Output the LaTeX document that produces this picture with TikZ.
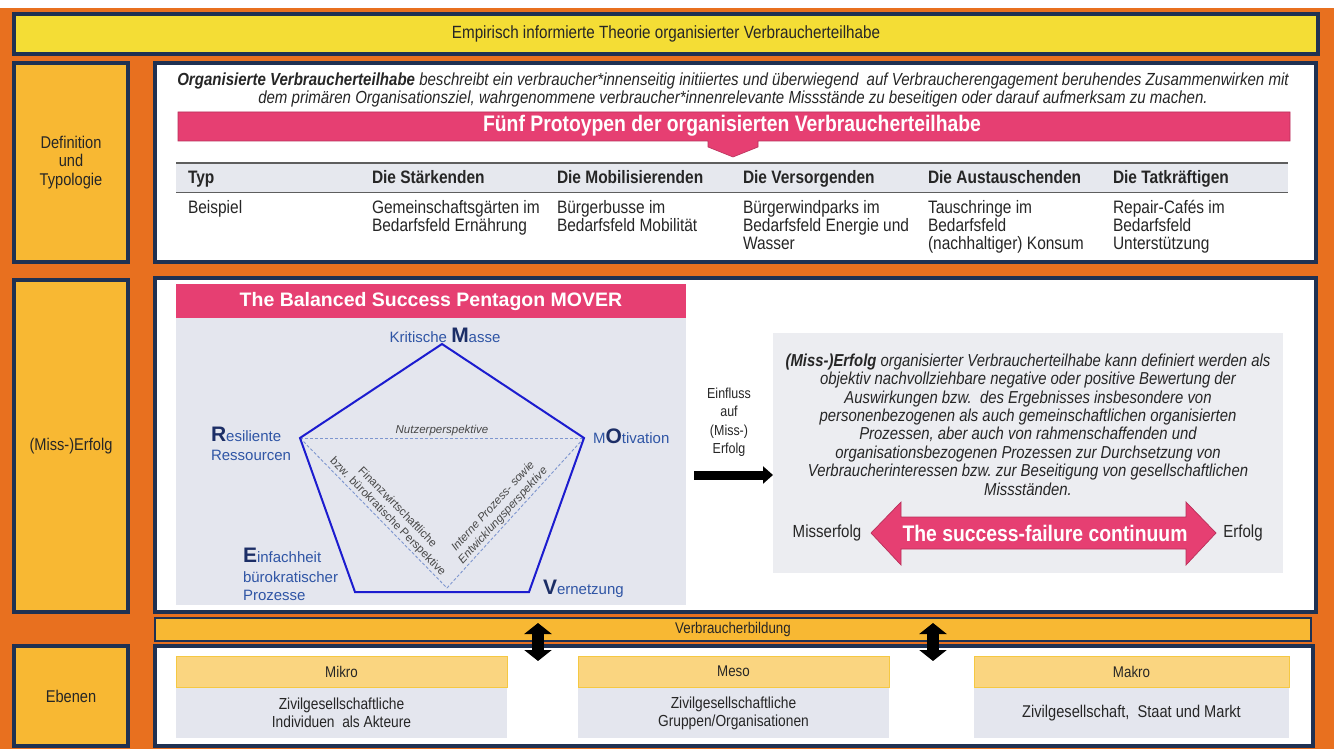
\documentclass[tikz,border=0pt]{standalone}
\usepackage{fontspec}
\setmainfont{Liberation Sans}
\newfontfamily\nar{Liberation Sans}[FakeStretch=0.86]
\usetikzlibrary{arrows.meta}

\definecolor{bgorange}{HTML}{E8701F}
\definecolor{navy}{HTML}{1F3152}
\definecolor{ttlyellow}{HTML}{F4DD35}
\definecolor{lblorange}{HTML}{F8B833}
\definecolor{pinkred}{HTML}{E63F72}
\definecolor{pinkedge}{HTML}{B8305A}
\definecolor{panelgray}{HTML}{E4E6EE}
\definecolor{boxgray}{HTML}{ECEDF1}
\definecolor{hdrorange}{HTML}{FAD580}
\definecolor{hdredge}{HTML}{F5C842}
\definecolor{pentblue}{HTML}{1C1CCF}
\definecolor{labblue}{HTML}{2F55A5}
\definecolor{capblue}{HTML}{1C2E66}
\definecolor{dashblue}{HTML}{7E96CF}
\definecolor{ink}{HTML}{262626}
\definecolor{rulegray}{HTML}{5E5E5E}
\definecolor{rowgray}{HTML}{E6E8EE}

\newcommand{\fsz}[2]{\fontsize{#1}{#2}\selectfont}
\newcommand{\mvl}[1]{{\color{capblue}\bfseries\fsz{21}{21}#1}}

\begin{document}
\begin{tikzpicture}[x=1pt,y=-1pt,
  every node/.style={inner sep=0pt, outer sep=0pt, text=ink},
  frame/.style={draw=navy, line width=3.2pt, anchor=north west},
  lbl/.style={frame, fill=lblorange, minimum width=114pt, align=center, font=\nar\fsz{17}{18.5}},
  whitebox/.style={frame, fill=white},
  thead/.style={anchor=base west, font=\nar\bfseries\fsz{18}{18}},
  tcell/.style={anchor=north west, align=left, font=\nar\fsz{18}{18}},
  plab/.style={anchor=base west, text=labblue, font=\fsz{15}{15}},
  persp/.style={font=\fsz{11.5}{13.5}, align=center, text=ink!85},
  dashline/.style={dashblue, dash pattern=on 3pt off 2pt, line width=0.9pt},
  lvlhead/.style={fill=hdrorange, draw=hdredge, line width=0.8pt, minimum height=31pt, anchor=north west, font=\nar\fsz{15.5}{15.5}},
  lvlbody/.style={fill=panelgray, minimum height=50pt, anchor=north west, align=center, font=\nar\fsz{16}{18}},
  bigarrow/.style={line width=12pt, {Triangle[length=11pt,width=27pt]}-{Triangle[length=11pt,width=27pt]}}
]
\useasboundingbox (0,0) rectangle (1334,749);
\fill[white] (0,0) rectangle (1334,749);
\fill[bgorange] (0,8) rectangle (1334,749);

% title bar
\node[frame, fill=ttlyellow, minimum width=1304pt, minimum height=40pt, font=\nar\fsz{17.7}{17.7}] (title) at (14,14)
  {Empirisch informierte Theorie organisierter Verbraucherteilhabe};

% ---------- definition and typology ----------
\node[lbl, minimum height=199pt] (lbldef) at (14,63) {Definition\\und\\Typologie};
\node[whitebox, minimum width=1161pt, minimum height=199pt] (defbox) at (155,63) {};

\node[align=center, font=\nar\itshape\fsz{17.5}{18}] (deftext) at (733,90)
  {\textbf{Organisierte Verbraucherteilhabe} beschreibt ein verbraucher*innenseitig initiiertes und überwiegend\ \ auf Verbraucherengagement beruhendes Zusammenwirken mit\\
   dem primären Organisationsziel, wahrgenommene verbraucher*innenrelevante Missstände zu beseitigen oder darauf aufmerksam zu machen.};

\fill[pinkred, draw=pinkedge, line width=0.6pt]
  (178,112) -- (1290,112) -- (1290,141) -- (758,141) -- (758,147) -- (733,157)
  -- (708,147) -- (708,141) -- (178,141) -- cycle;
\node[text=white, font=\nar\bfseries\fsz{22.5}{22.5}] (protohdr) at (732,126)
  {Fünf Protoypen der organisierten Verbraucherteilhabe};

% table
\fill[rowgray] (176,163) rectangle (1288,192);
\draw[rulegray, line width=1.8pt] (176,163) -- (1288,163);
\draw[rulegray, line width=0.9pt] (176,192) -- (1288,192);
\node[thead] (h1) at (188,184) {Typ};
\node[thead] (h2) at (372,184) {Die Stärkenden};
\node[thead] (h3) at (557,184) {Die Mobilisierenden};
\node[thead] (h4) at (743,184) {Die Versorgenden};
\node[thead] (h5) at (928,184) {Die Austauschenden};
\node[thead] (h6) at (1113,184) {Die Tatkräftigen};
\node[tcell] (c1) at (188,200) {Beispiel};
\node[tcell] (c2) at (372,200) {Gemeinschaftsgärten im\\Bedarfsfeld Ernährung};
\node[tcell] (c3) at (557,200) {Bürgerbusse im\\Bedarfsfeld Mobilität};
\node[tcell] (c4) at (743,200) {Bürgerwindparks im\\Bedarfsfeld Energie und\\Wasser};
\node[tcell] (c5) at (928,200) {Tauschringe im\\Bedarfsfeld\\(nachhaltiger) Konsum};
\node[tcell] (c6) at (1113,200) {Repair-Cafés im\\Bedarfsfeld\\Unterstützung};

% ---------- (Miss-)Erfolg ----------
\node[lbl, minimum height=332pt] (lblmiss) at (14,280) {(Miss-)Erfolg};
\node[whitebox, minimum width=1161pt, minimum height=334pt] (missbox) at (155,278) {};

\node[fill=pinkred, minimum width=510pt, minimum height=34pt, anchor=north west,
      text=white, font=\bfseries\fsz{19.5}{19.5}] (movhdr) at (176,284) {The Balanced Success Pentagon MOVER};
\node[fill=panelgray, minimum width=510pt, minimum height=287pt, anchor=north west] (movpanel) at (176,318) {};

% pentagon corners and the meeting point of the perspectives
\coordinate (pM) at (442,344);
\coordinate (pO) at (584,438);
\coordinate (pV) at (529,592);
\coordinate (pE) at (355,592);
\coordinate (pR) at (300,438);
\coordinate (pB) at (447,588);

\draw[dashline] (pR) -- (pO)
  node[midway, above=2pt, font=\itshape\fsz{11.5}{11.5}, text=ink!85] (nutz) {Nutzerperspektive};
\draw[dashline] (pR) -- (pB)
  node[pos=0.56, sloped, above=2pt, persp] (finz) {Finanzwirtschaftliche\\bzw. bürokratische Perspektive};
\draw[dashline] (pB) -- (pO)
  node[pos=0.45, sloped, above=2pt, persp, font=\itshape\fsz{11.5}{13.5}] (intern) {Interne Prozess- sowie\\Entwicklungsperspektive};

\draw[pentblue, line width=2pt, line join=miter] (pM) -- (pO) -- (pV) -- (pE) -- (pR) -- cycle;

\node[plab, anchor=base] (labM) at (445,342) {Kritische \mvl{M}asse};
\node[plab] (labR1) at (211,441) {\mvl{R}esiliente};
\node[plab] (labR2) at (211,460) {Ressourcen};
\node[plab] (labO) at (593,443) {M\mvl{O}tivation};
\node[plab] (labE1) at (243,562) {\mvl{E}infachheit};
\node[plab] (labE2) at (243,582) {bürokratischer};
\node[plab] (labE3) at (243,600) {Prozesse};
\node[plab] (labV) at (543,594) {\mvl{V}ernetzung};

\node[align=center, font=\nar\fsz{14.5}{18.5}] (einfl) at (729,422) {Einfluss\\auf\\(Miss-)\\Erfolg};

\node[fill=boxgray, minimum width=510pt, minimum height=240pt, anchor=north west] (mdef) at (773,333) {};
\coordinate (arrS) at (694,475);
\draw[line width=9pt, -{Triangle[length=10pt,width=17pt]}] (arrS) -- (mdef.west |- arrS);

\node[align=center, font=\nar\itshape\fsz{17.3}{18.4}] (mdeftext) at (1028,424.5)
  {\textbf{(Miss-)Erfolg} organisierter Verbraucherteilhabe kann definiert werden\ als\\
   objektiv nachvollziehbare negative oder positive Bewertung der\\
   Auswirkungen bzw.\ \ des Ergebnisses insbesondere von\\
   personenbezogenen als auch gemeinschaftlichen organisierten\\
   Prozessen, aber auch von rahmenschaffenden und\\
   organisationsbezogenen Prozessen zur Durchsetzung von\\
   Verbraucherinteressen bzw.\ zur Beseitigung von gesellschaftlichen\\
   Missständen.};

\fill[pinkred, draw=pinkedge, line width=0.7pt]
  (871,533) -- (901,502) -- (901,517) -- (1186,517) -- (1186,502) -- (1216,533)
  -- (1186,565) -- (1186,549) -- (901,549) -- (901,565) -- cycle;
\node[text=white, font=\nar\bfseries\fsz{22.5}{22.5}] (sfc) at (1045,533) {The success-failure continuum};
\node[font=\nar\fsz{17.5}{17.5}] (misserf) at (827,533) {Misserfolg};
\node[font=\nar\fsz{17.5}{17.5}] (erf) at (1243,533) {Erfolg};

% ---------- Verbraucherbildung and levels ----------
\node[frame, line width=2.6pt, fill=lblorange, minimum width=1156pt, minimum height=23pt, font=\nar\fsz{15.5}{15.5}] (vbild) at (155,618) {Verbraucherbildung};

\node[lbl, minimum height=100pt] (lbleb) at (14,646) {Ebenen};
\node[whitebox, minimum width=1158pt, minimum height=100pt] (ebbox) at (155,646) {};

\node[lvlhead, minimum width=331pt] (mikroH) at (176,656) {Mikro};
\node[lvlbody, minimum width=331pt] (mikroB) at (176,688) {Zivilgesellschaftliche\\Individuen\ \ als Akteure};
\node[lvlhead, minimum width=311pt] (mesoH) at (578,656) {Meso};
\node[lvlbody, minimum width=311pt] (mesoB) at (578,688) {Zivilgesellschaftliche\\Gruppen/Organisationen};
\node[lvlhead, minimum width=315pt] (makroH) at (974,656) {Makro};
\node[lvlbody, minimum width=315pt, font=\nar\fsz{17}{18}] (makroB) at (974,688) {Zivilgesellschaft,\ \ Staat und Markt};

\coordinate (vA1) at (538,623);
\coordinate (vA2) at (538,661);
\coordinate (vB1) at (933,623);
\coordinate (vB2) at (933,661);
\draw[bigarrow] (vA1) -- (vA2);
\draw[bigarrow] (vB1) -- (vB2);
\end{tikzpicture}
\end{document}
